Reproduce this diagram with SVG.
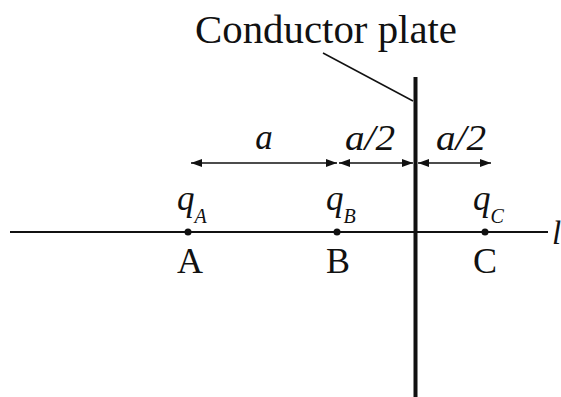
<svg xmlns="http://www.w3.org/2000/svg" width="561" height="397" viewBox="0 0 561 397">
<style>
.t{font-family:"Liberation Serif","Times New Roman",serif;fill:#111}
.i{font-style:italic}
.ln{stroke:#111;fill:none}
</style>
<defs>
<marker id="ah" viewBox="0 0 11 8" refX="11" refY="4" markerWidth="11" markerHeight="8" markerUnits="userSpaceOnUse" orient="auto-start-reverse">
<path d="M0,0 L11,4 L0,8 z" fill="#111"/>
</marker>
</defs>
<rect width="561" height="397" fill="#fff"/>
<g id="connectors">
<line class="ln" x1="10" y1="232" x2="548" y2="232" stroke-width="2"/>
<line class="ln" x1="323" y1="53" x2="413" y2="101" stroke-width="1.5"/>
<line class="ln" x1="191" y1="163" x2="337" y2="163" stroke-width="1.5" marker-start="url(#ah)" marker-end="url(#ah)"/>
<line class="ln" x1="339" y1="163" x2="413" y2="163" stroke-width="1.5" marker-start="url(#ah)" marker-end="url(#ah)"/>
<line class="ln" x1="418" y1="163" x2="491" y2="163" stroke-width="1.5" marker-start="url(#ah)" marker-end="url(#ah)"/>
</g>
<g id="plate">
<line class="ln" x1="415.5" y1="77" x2="415.5" y2="397" stroke-width="4"/>
<text class="t" x="195" y="43" font-size="39" textLength="262" lengthAdjust="spacingAndGlyphs">Conductor plate</text>
</g>
<g id="labels">
<text class="t i" x="264" y="149" font-size="35" text-anchor="middle">a</text>
<text class="t i" x="370" y="150" font-size="35" text-anchor="middle" textLength="50" lengthAdjust="spacingAndGlyphs">a/2</text>
<text class="t i" x="461" y="150" font-size="35" text-anchor="middle" textLength="50" lengthAdjust="spacingAndGlyphs">a/2</text>
<text class="t i" x="552" y="244" font-size="33">l</text>
</g>
<g id="nodeA">
<circle cx="188" cy="232" r="3.5" fill="#111"/>
<text class="t i" x="177" y="210" font-size="35">q<tspan font-size="20" dy="13">A</tspan></text>
<text class="t" x="190" y="273" font-size="36" text-anchor="middle">A</text>
</g>
<g id="nodeB">
<circle cx="337" cy="232" r="3.5" fill="#111"/>
<text class="t i" x="326" y="210" font-size="35">q<tspan font-size="20" dy="13">B</tspan></text>
<text class="t" x="338" y="273" font-size="36" text-anchor="middle">B</text>
</g>
<g id="nodeC">
<circle cx="485" cy="232" r="3.5" fill="#111"/>
<text class="t i" x="473" y="210" font-size="35">q<tspan font-size="20" dy="13">C</tspan></text>
<text class="t" x="485" y="273" font-size="36" text-anchor="middle">C</text>
</g>
</svg>
